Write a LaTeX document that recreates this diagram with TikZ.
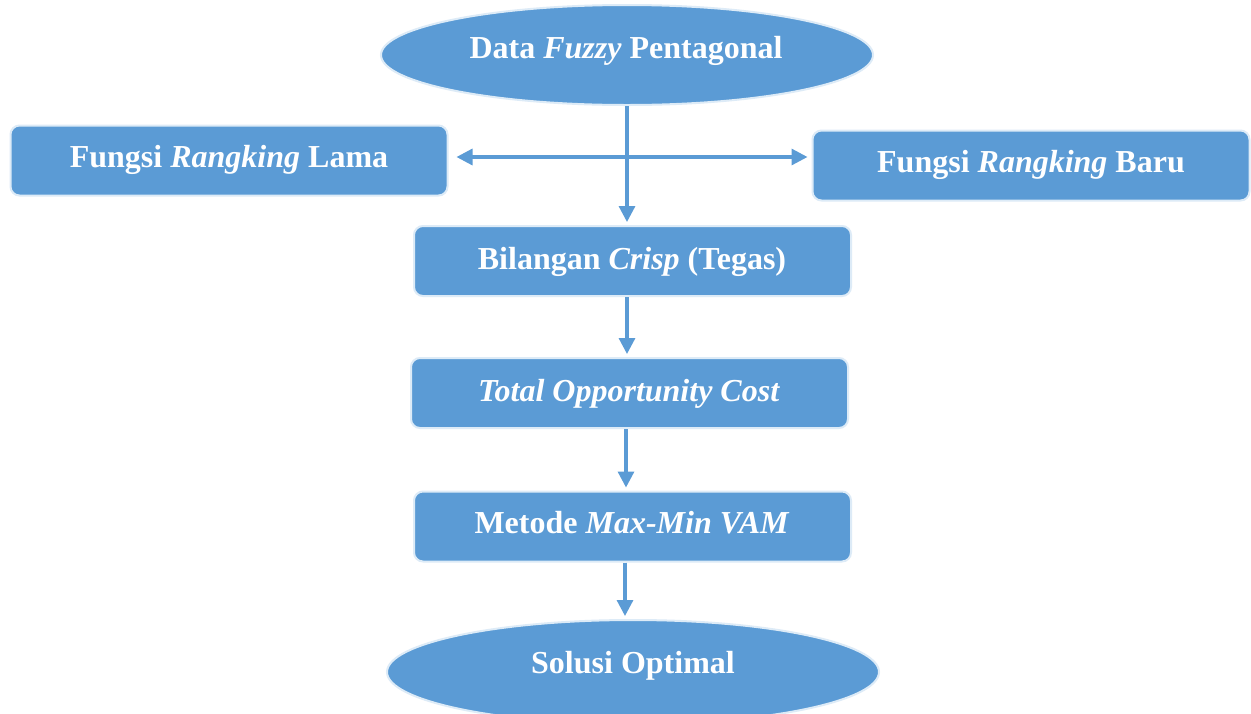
\documentclass[tikz,border=0pt]{standalone}
\usepackage{fontspec}
\setmainfont{Liberation Serif}
\usetikzlibrary{arrows.meta,shapes.geometric}
\definecolor{boxblue}{HTML}{5B9BD5}
\definecolor{edgeblue}{HTML}{DDEBF7}
\begin{document}
\begin{tikzpicture}[x=1pt,y=-1pt,
  procbox/.style={draw=edgeblue, line width=2pt, fill=boxblue, rounded corners=9pt,
    minimum width=437pt, minimum height=70pt, inner sep=0pt},
  terminal/.style={ellipse, draw=edgeblue, line width=2pt, fill=boxblue,
    minimum width=492pt, minimum height=100pt, inner sep=0pt},
  caption/.style={anchor=base, text=white, inner sep=0pt,
    font=\bfseries\fontsize{32}{37}\selectfont},
  flow/.style={draw=boxblue, line width=3.2pt, shorten >=3pt,
    -{Triangle[length=16pt,width=16pt]}},
  twoway/.style={draw=boxblue, line width=3.2pt, shorten >=4pt, shorten <=8pt,
    {Triangle[length=16pt,width=16pt]}-{Triangle[length=16pt,width=16pt]}},
]
\useasboundingbox (0,0) rectangle (1251,713);
\clip (0,0) rectangle (1251,713);
\fill[white] (0,0) rectangle (1251,713);

% shapes
\node[terminal] (data) at (627,55) {};
\node[procbox]  (lama) at (229,160.5) {};
\node[procbox]  (baru) at (1031,165.5) {};
\node[procbox]  (bil)  at (632.5,261) {};
\node[procbox]  (toc)  at (629.5,393) {};
\node[procbox]  (vam)  at (632.5,526.5) {};
\node[terminal, minimum height=104pt] (opt) at (633,672) {};

% texts
\node[caption] (tdata) at (626,58)  {Data \textit{Fuzzy} Pentagonal};
\node[caption] (tlama) at (229,167) {Fungsi \textit{Rangking} Lama};
\node[caption] (tbaru) at (1031,172) {Fungsi \textit{Rangking} Baru};
\node[caption] (tbil)  at (632,269) {Bilangan \textit{Crisp} (Tegas)};
\node[caption] (ttoc)  at (629,401) {\textit{Total Opportunity Cost}};
\node[caption] (tvam)  at (632,533) {Metode \textit{Max-Min VAM}};
\node[caption] (topt)  at (633,673) {Solusi Optimal};

% connectors
\coordinate (cross) at (627,157);
\draw[twoway] (cross -| lama.east) -- (cross -| baru.west);
\draw[flow] (data.south) -- (data.south |- bil.north);
\draw[flow] (bil.south -| data.south) -- (toc.north -| data.south);
\draw[flow] ([xshift=-1pt]toc.south -| data.south) -- ([xshift=-1pt]vam.north -| data.south);
\draw[flow] ([xshift=-2pt]vam.south -| data.south) -- ([xshift=-2pt]opt.north -| data.south);
\end{tikzpicture}
\end{document}
